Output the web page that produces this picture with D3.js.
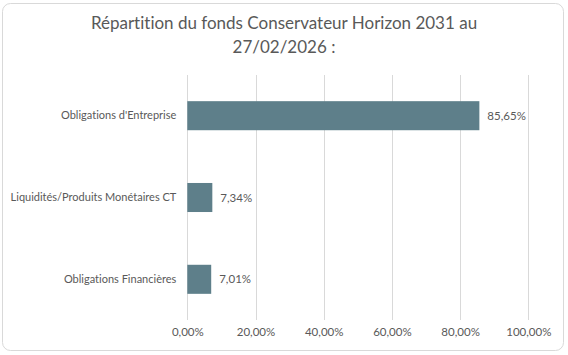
<!DOCTYPE html>
<html><head><meta charset="utf-8">
<script src="https://cdn.jsdelivr.net/npm/d3@7"></script>
<style>body{margin:0;background:#fff}svg{display:block}text{font-variant-ligatures:none;font-feature-settings:"liga" 0}</style>
</head><body>
<svg id="c" width="568" height="355"></svg>
<script>
const categories = ["Obligations d'Entreprise", "Liquidités/Produits Monétaires CT", "Obligations Financières"];
const values = [85.65, 7.34, 7.01];
const ticks = [0, 20, 40, 60, 80, 100];
const titleLines = ["Répartition du fonds Conservateur Horizon 2031 au", "27/02/2026 :"];

const fmt = v => v.toFixed(2).replace('.', ',') + '%';
const svg = d3.select('#c');
const font = "Lato, 'Open Sans', sans-serif";
const grey = '#595959';

svg.append('rect').attr('x', 2.5).attr('y', 3.5).attr('width', 561).attr('height', 347)
  .attr('rx', 8).attr('fill', '#fff').attr('stroke', '#d9d9d9');

const x = d3.scaleLinear().domain([0, 100]).range([187.3, 528.3]);
const y = d3.scaleBand().domain(categories).range([75, 320]).paddingInner(0.645).paddingOuter(0.32);

svg.selectAll('line.grid').data(ticks).join('line').attr('class', 'grid')
  .attr('x1', d => Math.round(x(d)) + 0.5).attr('x2', d => Math.round(x(d)) + 0.5)
  .attr('y1', 75).attr('y2', 320).attr('stroke', '#d9d9d9').attr('stroke-width', 1);

const xAxis = svg.append('g').attr('transform', 'translate(0,320)')
  .call(d3.axisBottom(x).tickValues(ticks).tickFormat(fmt).tickSize(0).tickPadding(8));
xAxis.select('.domain').remove();
xAxis.selectAll('text').attr('fill', grey).style('font-family', font).style('font-size', '11.5px');

const yAxis = svg.append('g').attr('transform', `translate(${x(0)},0)`)
  .call(d3.axisLeft(y).tickSize(0).tickPadding(11));
yAxis.select('.domain').remove();
yAxis.selectAll('text').attr('fill', grey).style('font-family', font).style('font-size', '11px');

svg.selectAll('rect.bar').data(values).join('rect').attr('class', 'bar')
  .attr('x', x(0)).attr('y', (d, i) => y(categories[i]))
  .attr('width', d => x(d) - x(0)).attr('height', y.bandwidth())
  .attr('fill', '#5e7f8a');

svg.selectAll('text.val').data(values).join('text').attr('class', 'val')
  .attr('x', d => x(d) + 8).attr('y', (d, i) => y(categories[i]) + y.bandwidth() / 2)
  .attr('dy', '0.35em').attr('fill', grey).style('font-family', font).style('font-size', '11.5px')
  .text(fmt);

svg.selectAll('text.title').data(titleLines).join('text').attr('class', 'title')
  .attr('x', 284).attr('y', (d, i) => 29 + i * 24).attr('text-anchor', 'middle')
  .attr('fill', grey).style('font-family', font).style('font-size', '17px').text(d => d);
</script>
</body></html>
